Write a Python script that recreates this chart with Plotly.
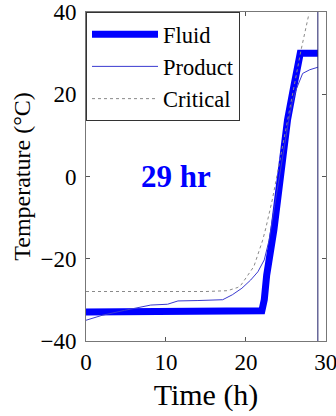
import plotly.graph_objects as go

# ---- data ----
fluid_t = [0, 5, 10, 15, 20, 21.0, 22.0, 22.3, 22.6, 23.5, 24.3, 25.2, 26.0, 26.8, 27.3, 29.0]
fluid_T = [-33, -33, -33, -33, -33, -33, -32.7, -30, -24, -13, 0, 13.7, 22, 30, 30, 30]

product_t = [0, 2, 4.8, 8.1, 10.2, 11.5, 14, 17.1, 18.3, 19.5, 20.6, 21.5, 22.3, 22.9, 23.6, 24.5, 25.3, 25.8, 26.25, 27.1, 28.0, 29.0]
product_T = [-35, -33.8, -32.6, -31.3, -31.1, -30.3, -30.2, -30.0, -28.8, -27.2, -25.2, -23.2, -20.3, -15.5, -7, 4, 13, 18, 21, 25.1, 26.0, 26.6]

critical_t = [0, 5, 10, 15, 17.7, 19.0, 19.4, 21.0, 22.1, 22.5, 23.3, 24.2, 25.2, 26.1, 26.9, 27.9]
critical_T = [-28, -28, -28, -28, -27.8, -27.0, -26.4, -21.9, -15.5, -12.5, -5.7, 3.5, 13.5, 22.5, 30.8, 39.7]

current_time = 29
label_text = "29 hr"
label_pos = (11.2, 0)

x_ticks = [0, 10, 20, 30]
y_ticks = [-40, -20, 0, 20, 40]

serif = "'Liberation Serif', 'Times New Roman', Times, serif"

fig = go.Figure()
fig.add_trace(go.Scatter(x=fluid_t, y=fluid_T, name="Fluid", mode="lines",
                         line=dict(color="#0000ff", width=7)))
fig.add_trace(go.Scatter(x=product_t, y=product_T, name="Product", mode="lines",
                         line=dict(color="#3a3ad0", width=1)))
fig.add_trace(go.Scatter(x=critical_t, y=critical_T, name="Critical", mode="lines",
                         line=dict(color="#8a8a8a", width=1, dash="dot")))

fig.add_vline(x=current_time, line=dict(color="#1a1a66", width=1))

fig.add_annotation(x=label_pos[0], y=label_pos[1], text="<b>" + label_text + "</b>",
                   showarrow=False, font=dict(family=serif, size=31, color="#0000ff"))

fig.update_layout(
    width=336, height=416,
    margin=dict(l=86, r=10, t=12, b=75, autoexpand=False),
    paper_bgcolor="white", plot_bgcolor="white",
    font=dict(family=serif, color="black"),
    showlegend=True,
    legend=dict(x=0, y=1, xanchor="left", yanchor="top",
                bordercolor="#333333", borderwidth=1, bgcolor="white",
                font=dict(family=serif, size=22.5),
                traceorder="normal", itemwidth=66),
    xaxis=dict(range=[0, 30.02], tickvals=x_ticks, ticks="inside", ticklen=4,
               tickcolor="#555", showline=True, linecolor="#777", linewidth=1,
               mirror="ticks", showgrid=False, zeroline=False, automargin=False,
               ticklabeloverflow="allow",
               tickfont=dict(family=serif, size=23),
               title=dict(text="Time (h)", font=dict(family=serif, size=30), standoff=10)),
    yaxis=dict(range=[-40.05, 40.05], tickvals=y_ticks, ticks="inside", ticklen=4,
               tickcolor="#555", showline=True, linecolor="#777", linewidth=1,
               mirror="ticks", showgrid=False, zeroline=False, automargin=False,
               ticklabeloverflow="allow",
               tickfont=dict(family=serif, size=23), ticklabelstandoff=4,
               title=dict(text="Temperature (°C)", font=dict(family=serif, size=24), standoff=3)),
)

fig.write_html("out.html")
